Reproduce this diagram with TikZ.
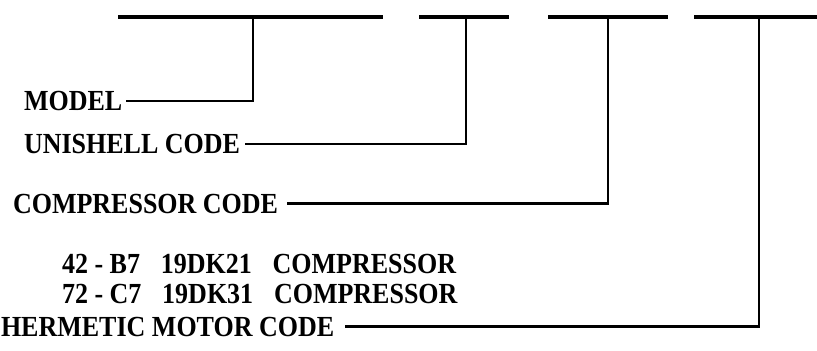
\documentclass[tikz,border=0pt]{standalone}
\usepackage{fontspec}
\setmainfont{Liberation Serif}
\newcommand{\tallt}[1]{\scalebox{1}[1.12]{#1}}
\begin{document}
\begin{tikzpicture}[x=1bp,y=-1bp,
  lbl/.style={anchor=west,inner sep=0pt,outer sep=0pt,text height=19bp,text depth=0pt,
    font=\fontsize{26bp}{30bp}\selectfont\bfseries},
  bar/.style={line width=3.6bp},
  lead/.style={line width=2.8bp,line join=miter}]
\useasboundingbox (0,0) rectangle (817,350);
% top bar segments
\coordinate (a1) at (118,17); \coordinate (a2) at (383,17);
\coordinate (b1) at (419,17); \coordinate (b2) at (509,17);
\coordinate (c1) at (548,17); \coordinate (c2) at (668,17);
\coordinate (d1) at (694,17); \coordinate (d2) at (817,17);
\draw[bar] (a1) -- (a2);
\draw[bar] (b1) -- (b2);
\draw[bar] (c1) -- (c2);
\draw[bar] (d1) -- (d2);
% junctions
\coordinate (j1) at (253,17);
\coordinate (j2) at (466,17);
\coordinate (j3) at (608,17);
\coordinate (j4) at (759,17);
% labels
\node[lbl] (model) at (24,101) {\tallt{MODEL}};
\node[lbl] (unishell) at (24,144) {\tallt{UNISHELL CODE}};
\node[lbl] (comp) at (13,203.5) {\tallt{COMPRESSOR CODE}};
\node[lbl] (b7) at (62,263.5) {\tallt{42 - B7\hspace{0.8em}19DK21\hspace{0.8em}COMPRESSOR}};
\node[lbl] (c7) at (62,293.5) {\tallt{72 - C7\hspace{0.8em}19DK31\hspace{0.8em}COMPRESSOR}};
\node[lbl] (motor) at (1,326.5) {\tallt{HERMETIC MOTOR CODE}};
% leaders
\draw[lead] ([xshift=4bp]model.east) -| (j1);
\draw[lead] ([xshift=5bp]unishell.east) -| (j2);
\draw[lead] ([xshift=9bp]comp.east) -| (j3);
\draw[lead] ([xshift=11bp]motor.east) -| (j4);
\end{tikzpicture}
\end{document}
